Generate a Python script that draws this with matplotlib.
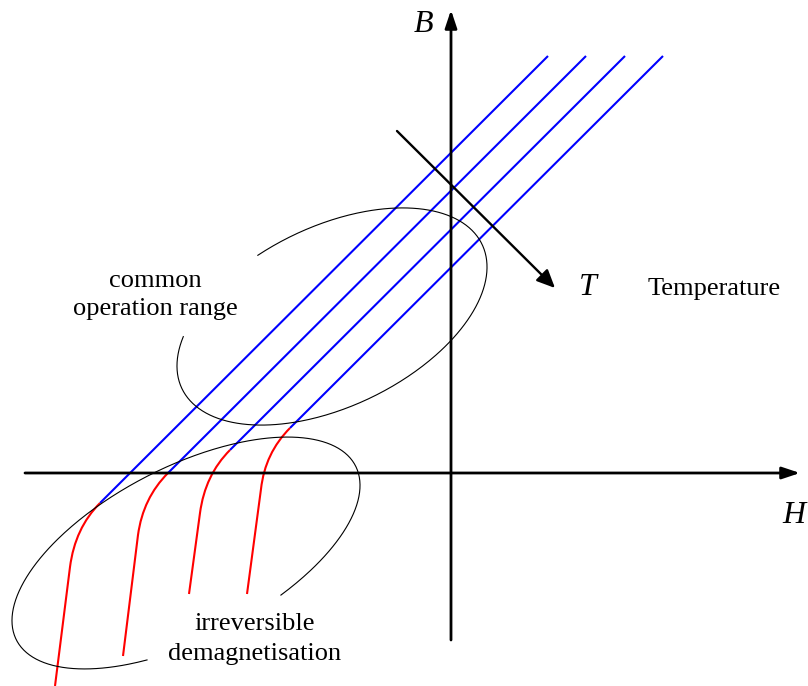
import numpy as np
import matplotlib
matplotlib.use("Agg")
import matplotlib.pyplot as plt
from matplotlib.path import Path
from matplotlib.patches import PathPatch

# Canvas units: x to the right, y downward (808 x 686)
W, H = 808, 686

# Coordinate axes (start, tip)
h_axis = [(25, 473), (800, 473)]
b_axis = [(451, 640), (451, 10)]

# Recoil lines: upper end and the knee where irreversible demagnetisation begins
blue_top_x = [548, 586, 625, 663]
blue_top_y = [56, 56, 56, 56]
knee_x = [100, 168, 230, 290]
knee_y = [503, 473, 450, 428]

# Red demagnetisation branch: bend control, end of bend, end of steep part
bend_ctrl_x = [75, 143, 205, 265]
bend_ctrl_y = [528, 498, 475, 453]
bend_end_x = [70, 138, 200, 261]
bend_end_y = [567, 535, 513, 489]
tail_x = [55, 123, 189, 247]
tail_y = [686, 656, 594, 594]

# Temperature arrow
temp_arrow = [(397, 131), (555, 288)]

# Open ellipses: centre, semi-axes, tilt (deg), drawn parameter range (deg)
upper_ell = dict(c=(332, 316.5), a=166.5, b=90.0, tilt=25.7, t0=149.0, t1=464.0)
lower_ell = dict(c=(186, 553), a=190.6, b=86.0, tilt=27.2, t0=290.0, t1=604.0)

# Text labels: (text, x centre, baseline y, italic, size)
labels = [
    ("B", 423, 32, True, 23),
    ("H", 794, 523, True, 23),
    ("T", 588, 295, True, 23),
    ("Temperature", 714, 295, False, 19),
    ("common", 155, 287, False, 19),
    ("operation range", 155, 315, False, 19),
    ("irreversible", 255, 630, False, 19),
    ("demagnetisation", 255, 660, False, 19),
]

fig = plt.figure(figsize=(W / 100, H / 100), dpi=100)
ax = fig.add_axes([0, 0, 1, 1])
ax.set_xlim(0, W)
ax.set_ylim(H, 0)
ax.axis("off")

serif = "Liberation Serif"


def arrow(p0, p1, lw, hl, hw, ms):
    ax.annotate("", xy=p1, xytext=p0,
                arrowprops=dict(arrowstyle=f"-|>,head_length={hl},head_width={hw}",
                                lw=lw, color="black", mutation_scale=ms,
                                shrinkA=0, shrinkB=0), zorder=3)


arrow(h_axis[0], h_axis[1], 2.0, 0.6, 0.2, 18)
arrow(b_axis[0], b_axis[1], 2.0, 0.6, 0.2, 18)

# Blue reversible lines
for xt, yt, xk, yk in zip(blue_top_x, blue_top_y, knee_x, knee_y):
    ax.plot([xt, xk], [yt, yk], color="#0000ff", lw=1.5, solid_capstyle="butt", zorder=2)

# Red irreversible branches
for i in range(4):
    verts = [(knee_x[i], knee_y[i]), (bend_ctrl_x[i], bend_ctrl_y[i]),
             (bend_end_x[i], bend_end_y[i]), (tail_x[i], tail_y[i])]
    codes = [Path.MOVETO, Path.CURVE3, Path.CURVE3, Path.LINETO]
    ax.add_patch(PathPatch(Path(verts, codes), fill=False, edgecolor="#ff0000",
                           lw=1.5, capstyle="butt", zorder=2))


def open_ellipse(e):
    t = np.radians(np.linspace(e["t0"], e["t1"], 400))
    th = np.radians(e["tilt"])
    cx, cy = e["c"]
    ux, uy = np.cos(th), -np.sin(th)
    vx, vy = -np.sin(th), -np.cos(th)
    x = cx + e["a"] * np.cos(t) * ux + e["b"] * np.sin(t) * vx
    y = cy + e["a"] * np.cos(t) * uy + e["b"] * np.sin(t) * vy
    ax.plot(x, y, color="black", lw=0.8, zorder=2)


open_ellipse(upper_ell)
open_ellipse(lower_ell)

arrow(temp_arrow[0], temp_arrow[1], 1.7, 0.55, 0.25, 20)

for txt, x, y, italic, size in labels:
    ax.text(x, y, txt, fontfamily=serif, fontstyle="italic" if italic else "normal",
            fontsize=size, ha="center", va="baseline")

fig.savefig("out.png", dpi=100)
